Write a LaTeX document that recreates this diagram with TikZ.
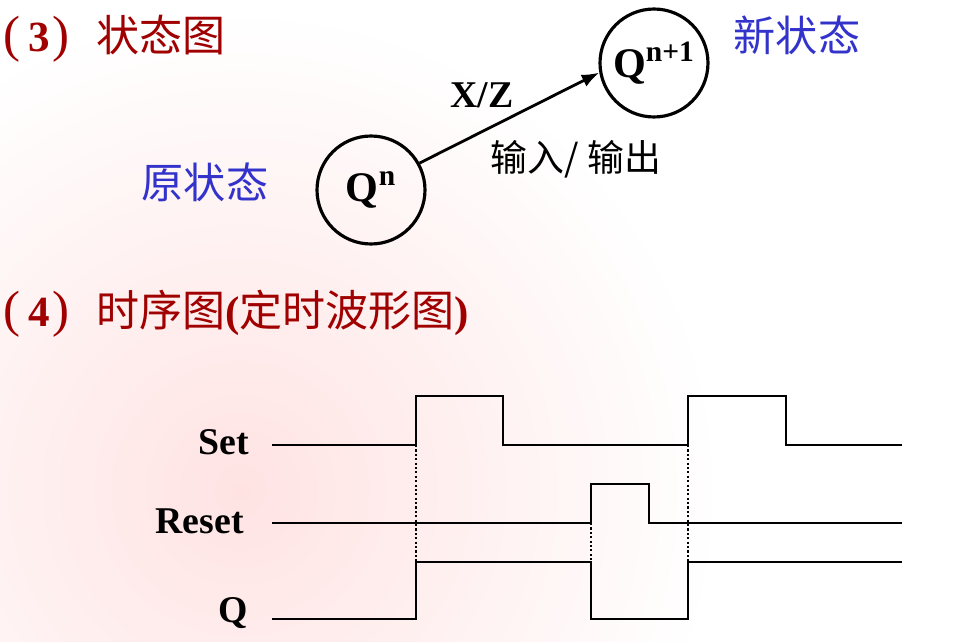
\documentclass[tikz,border=0pt]{standalone}
\usepackage{fontspec}
\setmainfont{Liberation Serif}
\newfontfamily\cjk{Noto Sans CJK SC}
\usetikzlibrary{arrows.meta}
\definecolor{titlered}{RGB}{160,0,0}
\definecolor{stateblue}{RGB}{51,51,204}
\newcommand{\bigparen}[1]{{\fontsize{29}{30}\selectfont #1}}
\newcommand{\secnum}[1]{{\rmfamily\bigparen{(}\kern0.18em\textbf{#1}\kern0.07em\bigparen{)}}\kern0.62em}
\newcommand{\bnum}[1]{{\rmfamily\bfseries #1}}

\begin{document}
\begin{tikzpicture}[x=0.02cm,y=-0.02cm,
        state/.style={draw,circle,line width=1.8pt,minimum size=2.16cm,inner sep=0pt,
                      font=\fontsize{24}{27}\selectfont\bfseries},
        heading/.style={anchor=base west,inner sep=0pt,text=titlered,
                        font=\cjk\fontsize{24.5}{28}\selectfont},
        note/.style={anchor=base,inner sep=0pt,text=stateblue,font=\cjk\fontsize{24}{28}\selectfont},
        sig/.style={anchor=base east,inner sep=0pt,font=\fontsize{21.5}{24}\selectfont\bfseries},
        wave/.style={line width=1.4pt},
        guide/.style={line width=1.2pt,dash pattern=on 1.2pt off 1.3pt}]
    \useasboundingbox (0,0) rectangle (958,642);
    \shade[inner color=red!11,outer color=white] (240,490) circle (480);

    \node[heading] (h3) at (3,52)  {\secnum{3}状态图};
    \node[heading] (h4) at (3,326) {\secnum{4}时序图\bnum{(}定时波形图\bnum{)}};

    \node[state] (Qn)  at (371,190) {Q\textsuperscript{n}};
    \node[state] (Qn1) at (654,63)  {Q\textsuperscript{n+1}};
    \node[note]  (old) at (205,199) {原状态};
    \node[note]  (new) at (797,52)  {新状态};

    \draw [-{Latex[length=10pt,width=7.5pt]},line width=1.6pt] (Qn.29) -- (Qn1.190);
    \node[anchor=base,inner sep=0pt,font=\fontsize{21.5}{24}\selectfont\bfseries] (xz) at (482,108) {X/Z};
    \node[anchor=base,inner sep=0pt,font=\cjk\fontsize{21}{24}\selectfont]       (io) at (576,172) {输入/ 输出};

    \node[sig] (set)   at (249,454) {Set};
    \node[sig] (reset) at (244,533) {Reset};
    \node[sig] (q)     at (248,622) {Q};

    \draw[wave] (272,445) -| (416,396) -| (503,445) -| (688,396) -| (786,445) -- (902,445);
    \draw[wave] (272,523) -| (591,484) -| (649,523) -- (902,523);
    \draw[wave] (272,619) -| (416,562) -| (591,619) -| (688,562) -- (902,562);
    \draw[guide] (416,445) -- (416,562);
    \draw[guide] (591,523) -- (591,562);
    \draw[guide] (688,445) -- (688,562);
\end{tikzpicture}
\end{document}
